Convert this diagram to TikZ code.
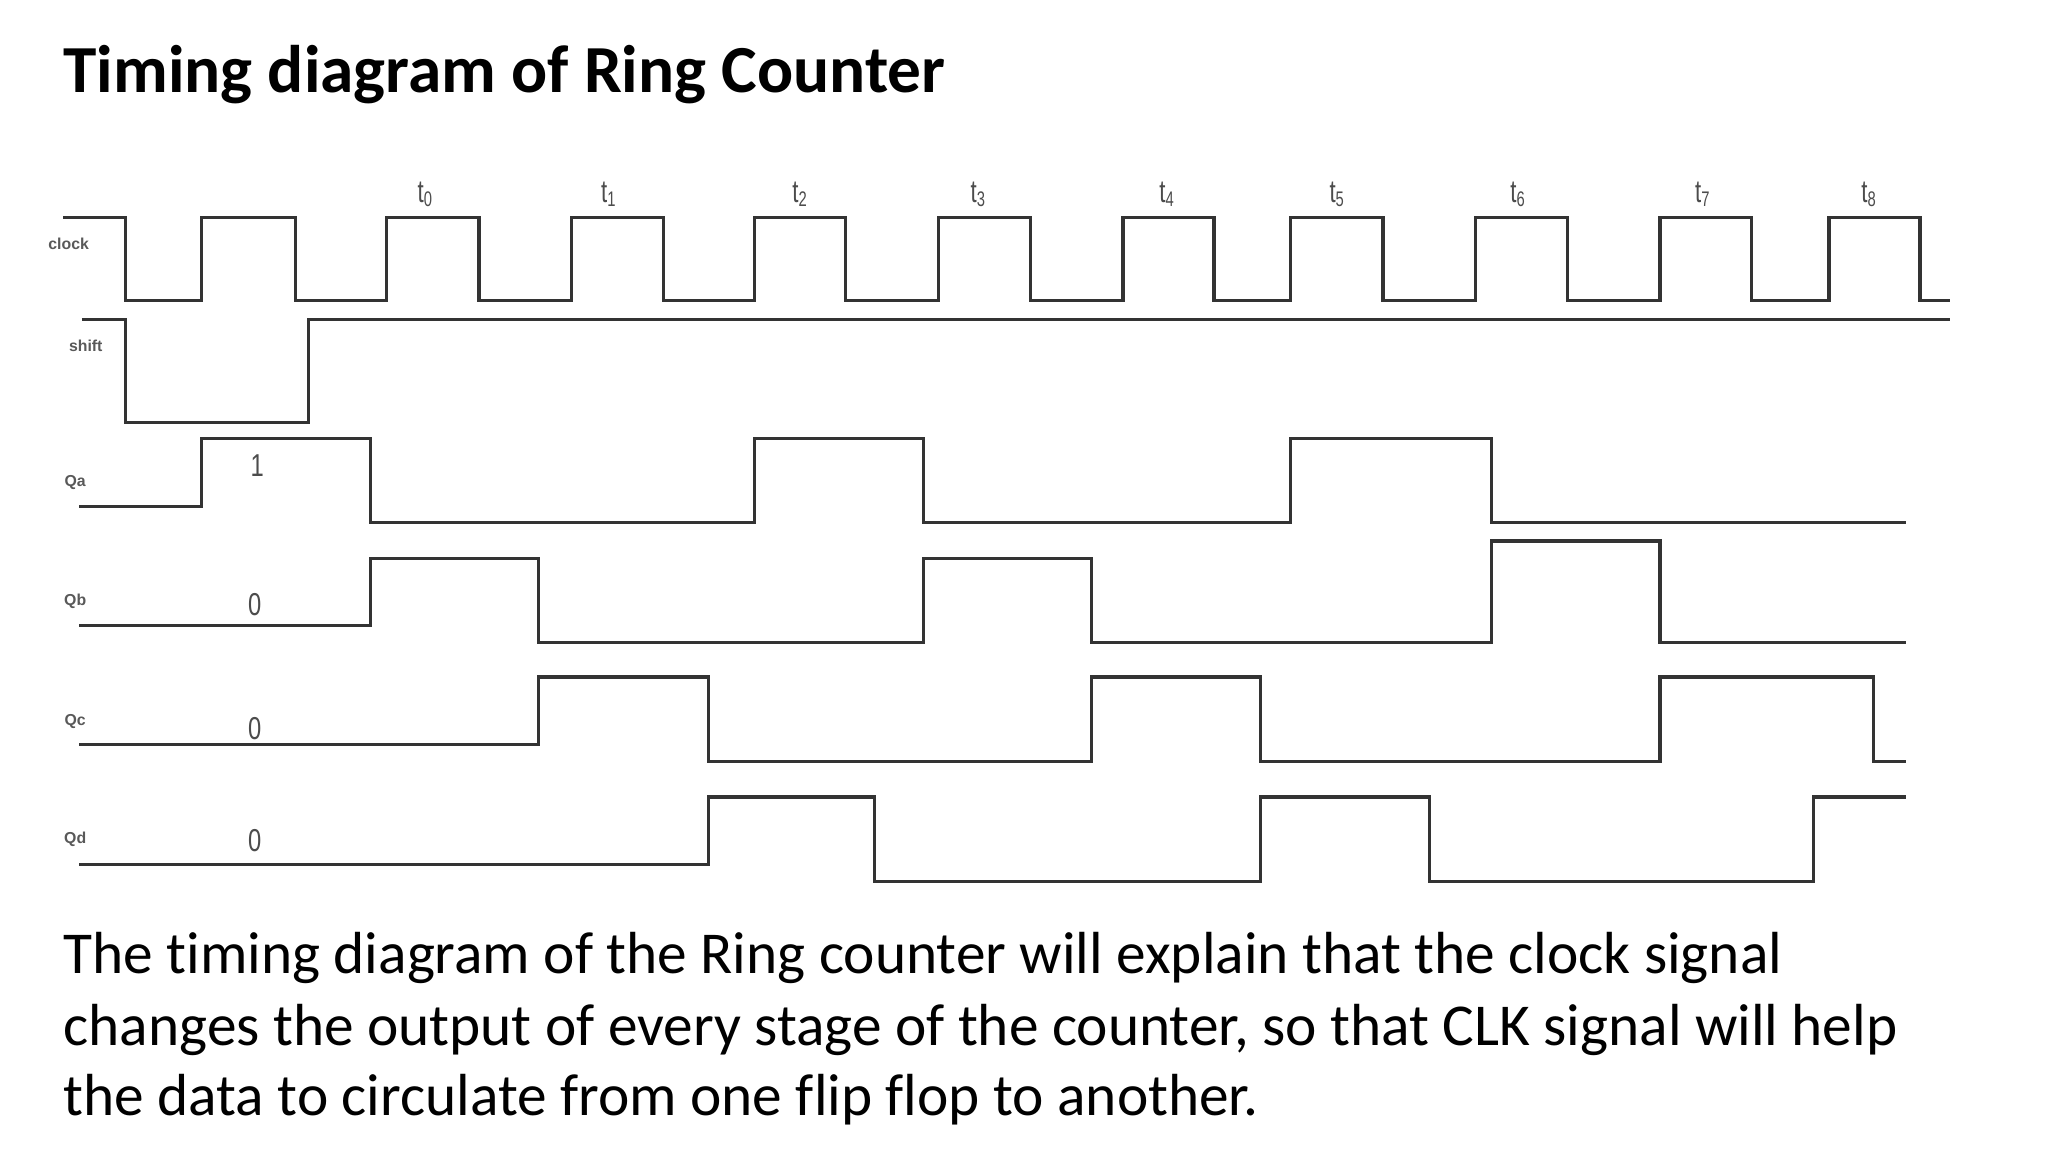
\documentclass[tikz,border=0pt]{standalone}
\usepackage{fontspec}
\setmainfont{Carlito}[Ligatures=NoCommon]
\newfontfamily\lblfont{Liberation Sans}
\begin{document}
\begin{tikzpicture}[x=1pt,y=-1pt,
  wave/.style={draw=black!80,line width=2.4pt},
  siglbl/.style={font=\lblfont\fontsize{12}{13}\selectfont\bfseries,text=black!65,inner sep=0pt},
  val/.style={font=\lblfont\fontsize{24}{26}\selectfont,text=black!70,inner sep=0pt,xscale=0.75},
  tlbl/.style={font=\lblfont\fontsize{24}{26}\selectfont,text=black!70,inner sep=0pt,xscale=0.7}]
\useasboundingbox (0,0) rectangle (1552,873);
\fill[white] (0,0) rectangle (1552,873);
\node[anchor=base west,inner sep=0pt,font=\fontsize{51}{60}\selectfont\bfseries] (title) at (48,70) {Timing diagram of Ring Counter};
% clock
\draw[wave] (48,165) -- (95,165) -- (95,228) -- (153,228) -- (153,165) -- (224,165) -- (224,228) -- (293,228) -- (293,165) -- (363,165) -- (363,228) -- (433,228) -- (433,165) -- (503,165) -- (503,228) -- (572,228) -- (572,165) -- (641,165) -- (641,228) -- (711,228) -- (711,165) -- (781,165) -- (781,228) -- (851,228) -- (851,165) -- (920,165) -- (920,228) -- (978,228) -- (978,165) -- (1048,165) -- (1048,228) -- (1118,228) -- (1118,165) -- (1188,165) -- (1188,228) -- (1258,228) -- (1258,165) -- (1327,165) -- (1327,228) -- (1386,228) -- (1386,165) -- (1455,165) -- (1455,228) -- (1478,228);
% shift
\draw[wave] (62,242) -- (95,242) -- (95,320) -- (234,320) -- (234,242) -- (1478,242);
% Qa
\draw[wave] (60,384) -- (153,384) -- (153,332) -- (281,332) -- (281,396) -- (572,396) -- (572,332) -- (700,332) -- (700,396) -- (978,396) -- (978,332) -- (1130,332) -- (1130,396) -- (1444,396);
% Qb
\draw[wave] (60,474) -- (281,474) -- (281,423) -- (408,423) -- (408,487) -- (700,487) -- (700,423) -- (827,423) -- (827,487) -- (1130,487) -- (1130,410) -- (1258,410) -- (1258,487) -- (1444,487);
% Qc
\draw[wave] (60,564) -- (408,564) -- (408,513) -- (537,513) -- (537,577) -- (827,577) -- (827,513) -- (955,513) -- (955,577) -- (1258,577) -- (1258,513) -- (1420,513) -- (1420,577) -- (1444,577);
% Qd
\draw[wave] (60,655) -- (537,655) -- (537,604) -- (663,604) -- (663,668) -- (955,668) -- (955,604) -- (1083,604) -- (1083,668) -- (1374,668) -- (1374,604) -- (1444,604);
% labels
\node[siglbl] (lclk) at (52,185) {clock};
\node[siglbl] (lsh) at (65,262) {shift};
\node[siglbl] (lqa) at (57,366) {Qa};
\node[siglbl] (lqb) at (57,456) {Qb};
\node[siglbl] (lqc) at (57,547) {Qc};
\node[siglbl] (lqd) at (57,636) {Qd};
\node[val] (v1) at (195,353) {1};
\node[val] (v2) at (193,458) {0};
\node[val] (v3) at (193,552) {0};
\node[val] (v4) at (193,637) {0};
\foreach \i/\x in {0/322,1/461,2/606,3/741,4/884,5/1013,6/1150,7/1290,8/1416}
  \node[tlbl] (t\i) at (\x,147) {t\raisebox{-0.25ex}{\fontsize{16}{16}\selectfont\i}};
% body text
\node[anchor=base west,inner sep=0pt,font=\fontsize{45}{54}\selectfont] (l1) at (48,738) {The timing diagram of the Ring counter will explain that the clock signal};
\node[anchor=base west,inner sep=0pt,font=\fontsize{45}{54}\selectfont] (l2) at (48,792) {changes the output of every stage of the counter, so that CLK signal will help};
\node[anchor=base west,inner sep=0pt,font=\fontsize{45}{54}\selectfont] (l3) at (48,845) {the data to circulate from one flip flop to another.};
\end{tikzpicture}
\end{document}
